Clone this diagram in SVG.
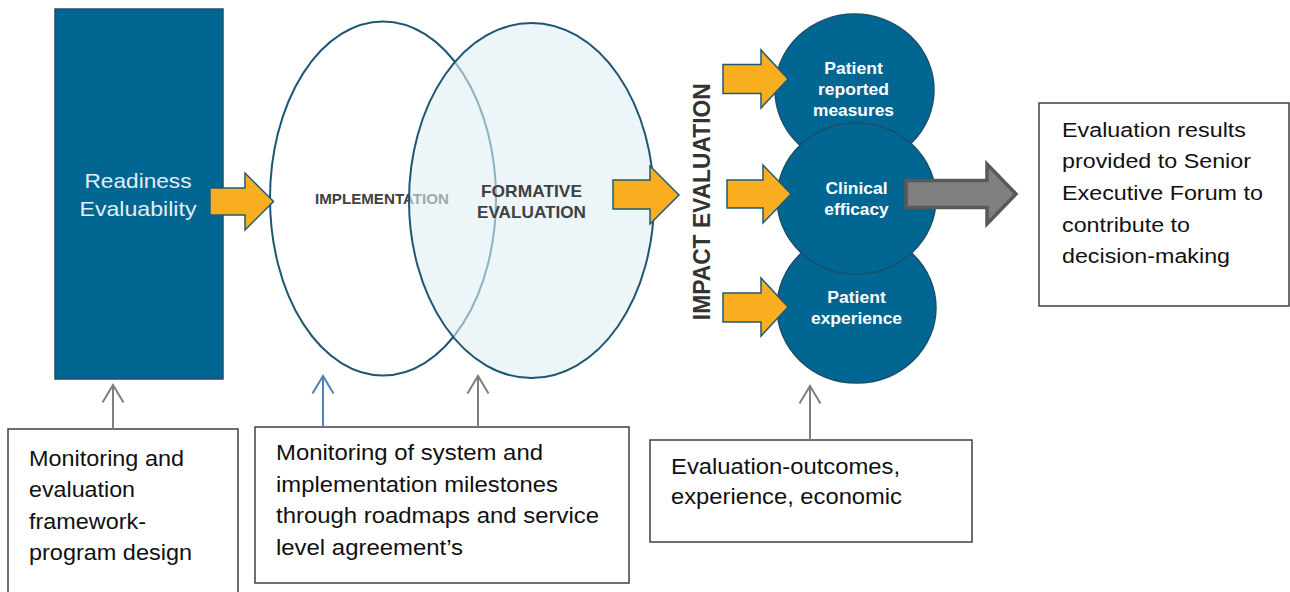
<svg xmlns="http://www.w3.org/2000/svg" width="1290" height="592" viewBox="0 0 1290 592">
  <style>
    .txt { font-family: "Liberation Sans", Arial, sans-serif; }
    .box { fill: #ffffff; stroke: #404040; stroke-width: 1.5; }
    .boxtxt { font-size: 21.5px; fill: #111111; }
    .blue { fill: #016691; stroke: #1b4f6b; stroke-width: 1.5; }
    .circtxt { font-size: 16px; font-weight: bold; fill: #ffffff; text-anchor: middle; }
    .oval { stroke: #1f5672; stroke-width: 2; }
    .phase { font-weight: bold; fill: #404040; text-anchor: middle; }
    .block { fill: #f9ae1f; stroke: #235a73; stroke-width: 1.5; stroke-linejoin: miter; }
    .up { fill: none; stroke-width: 2; }
  </style>
  <defs>
    <marker id="headGray" viewBox="0 0 20 24" refX="17.5" refY="12" markerWidth="20" markerHeight="24" markerUnits="userSpaceOnUse" orient="auto">
      <path d="M0,1.5 L17.5,12 L0,22.5" fill="none" stroke="#7f7f7f" stroke-width="2"/>
    </marker>
    <marker id="headBlue" viewBox="0 0 20 24" refX="17.5" refY="12" markerWidth="20" markerHeight="24" markerUnits="userSpaceOnUse" orient="auto">
      <path d="M0,1.5 L17.5,12 L0,22.5" fill="none" stroke="#4f81bd" stroke-width="2"/>
    </marker>
  </defs>

  <rect width="1290" height="592" fill="#ffffff"/>

  <!-- stage 1: readiness -->
  <g id="readiness">
    <rect class="blue" x="55" y="9" width="168" height="370"/>
    <text class="txt" x="138" y="188" font-size="21" fill="#e4eef4" text-anchor="middle" textLength="107" lengthAdjust="spacingAndGlyphs">Readiness</text>
    <text class="txt" x="138" y="216" font-size="21" fill="#e4eef4" text-anchor="middle" textLength="117" lengthAdjust="spacingAndGlyphs">Evaluability</text>
  </g>

  <!-- stage 2: implementation -->
  <g id="implementation">
    <ellipse class="oval" cx="383" cy="198.5" rx="113" ry="177" fill="#ffffff"/>
    <text class="txt phase" x="382" y="204" font-size="15" textLength="134" lengthAdjust="spacingAndGlyphs">IMPLEMENTATION</text>
  </g>

  <!-- stage 3: formative evaluation (translucent, overlaps stage 2) -->
  <g id="formative">
    <ellipse class="oval" cx="531.5" cy="200.5" rx="122.5" ry="177.5" fill="#dfeef3" fill-opacity="0.6"/>
    <text class="txt phase" x="531.5" y="196.5" font-size="17" textLength="101" lengthAdjust="spacingAndGlyphs">FORMATIVE</text>
    <text class="txt phase" x="531.5" y="217.5" font-size="17" textLength="109" lengthAdjust="spacingAndGlyphs">EVALUATION</text>
  </g>

  <!-- stage 4: impact evaluation -->
  <g id="impact-label">
    <text class="txt" x="710" y="201.7" font-size="23" font-weight="bold" fill="#333333" text-anchor="middle" textLength="237" lengthAdjust="spacingAndGlyphs" transform="rotate(-90 710 201.7)">IMPACT EVALUATION</text>
  </g>

  <g id="patient-reported">
    <ellipse class="blue" cx="854.5" cy="90" rx="79.5" ry="76"/>
    <text class="txt circtxt" x="853.5" y="74" textLength="58.5" lengthAdjust="spacingAndGlyphs">Patient</text>
    <text class="txt circtxt" x="853.5" y="95" textLength="71" lengthAdjust="spacingAndGlyphs">reported</text>
    <text class="txt circtxt" x="853.5" y="116" textLength="81" lengthAdjust="spacingAndGlyphs">measures</text>
  </g>

  <g id="patient-experience">
    <ellipse class="blue" cx="856.5" cy="307.5" rx="79.5" ry="75.5"/>
    <text class="txt circtxt" x="856.5" y="302.5" textLength="58.5" lengthAdjust="spacingAndGlyphs">Patient</text>
    <text class="txt circtxt" x="856.5" y="323.5" textLength="91" lengthAdjust="spacingAndGlyphs">experience</text>
  </g>

  <g id="clinical-efficacy">
    <ellipse class="blue" cx="856.5" cy="198.5" rx="79.5" ry="75.5"/>
    <text class="txt circtxt" x="856.5" y="194.3" textLength="62" lengthAdjust="spacingAndGlyphs">Clinical</text>
    <text class="txt circtxt" x="856.5" y="215" textLength="64.5" lengthAdjust="spacingAndGlyphs">efficacy</text>
  </g>

  <!-- output -->
  <g id="results">
    <rect class="box" x="1039" y="103" width="250" height="203"/>
    <g class="txt" font-size="20" fill="#111111">
      <text x="1062" y="136.7" textLength="184" lengthAdjust="spacingAndGlyphs">Evaluation results</text>
      <text x="1062" y="168.3" textLength="189" lengthAdjust="spacingAndGlyphs">provided to Senior</text>
      <text x="1062" y="200" textLength="201" lengthAdjust="spacingAndGlyphs">Executive Forum to</text>
      <text x="1062" y="231.7" textLength="128" lengthAdjust="spacingAndGlyphs">contribute to</text>
      <text x="1062" y="263.3" textLength="168" lengthAdjust="spacingAndGlyphs">decision-making</text>
    </g>
  </g>

  <!-- monitoring notes -->
  <g id="note-framework">
    <rect class="box" x="8" y="429" width="230" height="175"/>
    <g class="txt boxtxt" font-size="22">
      <text x="29" y="465.5" textLength="155" lengthAdjust="spacingAndGlyphs">Monitoring and</text>
      <text x="29" y="497" textLength="106" lengthAdjust="spacingAndGlyphs">evaluation</text>
      <text x="29" y="528.5" textLength="117" lengthAdjust="spacingAndGlyphs">framework-</text>
      <text x="29" y="560" textLength="163" lengthAdjust="spacingAndGlyphs">program design</text>
    </g>
  </g>

  <g id="note-milestones">
    <rect class="box" x="255" y="427" width="374" height="156"/>
    <g class="txt boxtxt">
      <text x="276" y="460" textLength="267" lengthAdjust="spacingAndGlyphs">Monitoring of system and</text>
      <text x="276" y="491.7" textLength="282" lengthAdjust="spacingAndGlyphs">implementation milestones</text>
      <text x="276" y="523.3" textLength="323" lengthAdjust="spacingAndGlyphs">through roadmaps and service</text>
      <text x="276" y="555" textLength="187" lengthAdjust="spacingAndGlyphs">level agreement’s</text>
    </g>
  </g>

  <g id="note-outcomes">
    <rect class="box" x="650" y="440" width="322" height="102"/>
    <g class="txt boxtxt">
      <text x="671" y="474" textLength="229" lengthAdjust="spacingAndGlyphs">Evaluation-outcomes,</text>
      <text x="671" y="503.5" textLength="231" lengthAdjust="spacingAndGlyphs">experience, economic</text>
    </g>
  </g>

  <!-- connectors -->
  <g id="connectors">
    <path class="block" d="M210,188 H245 V173 L273.5,201.5 L245,230 V215 H210 Z"/>
    <path class="block" d="M613,180 H650 V166 L679,195 L650,224 V209 H613 Z"/>
    <path class="block" d="M723,64.5 H761 V50 L788,79 L761,108 V93.5 H723 Z"/>
    <path class="block" d="M727,180 H763 V165 L791,194 L763,223 V208 H727 Z"/>
    <path class="block" d="M723,293 H761 V278 L788,307 L761,336 V322 H723 Z"/>
    <path d="M906,180.5 H987 V164 L1016,194 L987,224 V207.5 H906 Z" fill="#7f7f7f" stroke="#595959" stroke-width="3.5"/>

    <line class="up" x1="113" y1="429" x2="113" y2="385" stroke="#7f7f7f" marker-end="url(#headGray)"/>
    <line class="up" x1="323" y1="427" x2="323" y2="376" stroke="#4f81bd" marker-end="url(#headBlue)"/>
    <line class="up" x1="478" y1="427" x2="478" y2="376" stroke="#7f7f7f" marker-end="url(#headGray)"/>
    <line class="up" x1="810" y1="440" x2="810" y2="386" stroke="#7f7f7f" marker-end="url(#headGray)"/>
  </g>
</svg>
